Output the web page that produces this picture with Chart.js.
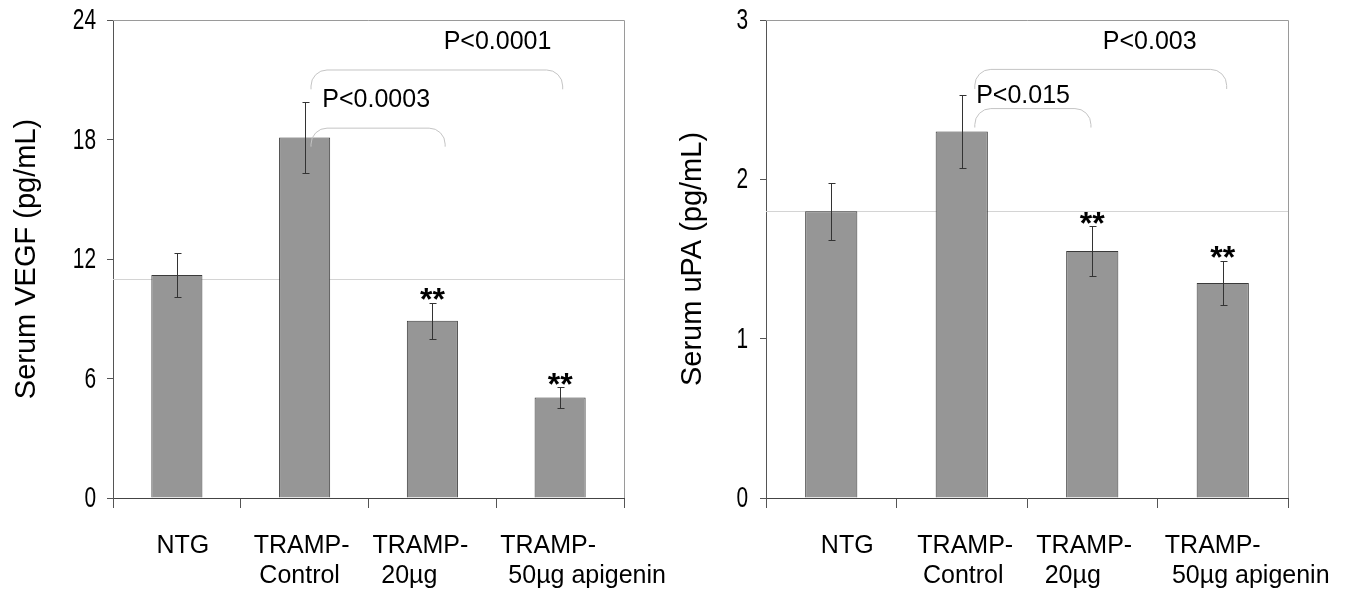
<!DOCTYPE html>
<html><head><meta charset="utf-8">
<script src="https://cdn.jsdelivr.net/npm/chart.js@4/dist/chart.umd.min.js"></script>
<style>
html,body{margin:0;padding:0;background:#fff;}
#wrap{position:relative;width:1347px;height:592px;overflow:hidden;background:#fff;}
#c1{position:absolute;left:0;top:0;}
#c2{position:absolute;left:670px;top:0;}
</style></head><body>
<div id="wrap"><canvas id="c1" width="670" height="592"></canvas><canvas id="c2" width="677" height="592"></canvas></div>
<script>
// ---- data ----
const categories = [['NTG'], ['TRAMP-', 'Control'], ['TRAMP-', '20µg'], ['TRAMP-', '50µg apigenin']];
const vegfValues = [11.2, 18.1, 8.9, 5.05];
const vegfErrors = [1.1, 1.8, 0.9, 0.52];
const vegfTicks = [0, 6, 12, 18, 24];
const vegfReference = 11.0;
const vegfStars = ['', '', '**', '**'];
const vegfPLabels = ['P<0.0003', 'P<0.0001'];
const upaValues = [1.80, 2.30, 1.55, 1.35];
const upaErrors = [0.18, 0.23, 0.155, 0.14];
const upaTicks = [0, 1, 2, 3];
const upaReference = 1.80;
const upaStars = ['', '', '**', '**'];
const upaPLabels = ['P<0.015', 'P<0.003'];

// ---- layout of annotations (index / value space) ----
const vegfBracketLayout = [
  {x1: 1.05, x2: 2.10, top: 18.57, bottom: 17.64, tx: 1.56, ty: 19.99},
  {x1: 1.05, x2: 3.02, top: 21.49, bottom: 20.52, tx: 2.51, ty: 22.88}
];
const upaBracketLayout = [
  {x1: 1.10, x2: 1.99, top: 2.444, bottom: 2.325, tx: 1.47, ty: 2.52},
  {x1: 1.10, x2: 3.03, top: 2.69, bottom: 2.567, tx: 2.44, ty: 2.864}
];
const vegfLabelShift = [[6], [-3, -5], [-12, -23], [-12, 27]];
const upaLabelShift = [[16], [3.5, 1.5], [-8, -19.5], [-10, 28]];

const SANS = "'Liberation Sans', Arial, sans-serif";

function makeChart(canvas, o) {
  const annot = {
    id: 'annot',
    beforeDatasetsDraw(chart) {
      const {ctx, chartArea: a, scales: {y}} = chart;
      ctx.save();
      ctx.strokeStyle = '#d4d4d4';
      ctx.lineWidth = 1;
      const ry = Math.round(y.getPixelForValue(o.reference)) + 0.5;
      ctx.beginPath(); ctx.moveTo(a.left, ry); ctx.lineTo(a.right, ry); ctx.stroke();
      ctx.restore();
    },
    afterDatasetsDraw(chart) {
      const {ctx, chartArea: a, scales: {x, y}} = chart;
      const meta = chart.getDatasetMeta(0);
      ctx.save();
      // frame top/right
      ctx.strokeStyle = '#9a9a9a';
      ctx.lineWidth = 1;
      ctx.beginPath();
      ctx.moveTo(a.left, a.top + 0.5); ctx.lineTo(Math.round(a.right) + 0.5, a.top + 0.5);
      ctx.lineTo(Math.round(a.right) + 0.5, a.bottom);
      ctx.stroke();
      // error bars
      ctx.strokeStyle = '#333';
      o.values.forEach((v, i) => {
        const bx = Math.round(meta.data[i].x) + 0.5;
        const t = Math.round(y.getPixelForValue(v + o.errors[i])) + 0.5;
        const b = Math.round(y.getPixelForValue(v - o.errors[i])) + 0.5;
        ctx.beginPath();
        ctx.moveTo(bx, t); ctx.lineTo(bx, b);
        ctx.moveTo(bx - 3, t); ctx.lineTo(bx + 4, t);
        ctx.moveTo(bx - 3, b); ctx.lineTo(bx + 4, b);
        ctx.stroke();
      });
      // stars
      ctx.fillStyle = '#000';
      ctx.font = 'bold 32px ' + SANS;
      ctx.textAlign = 'center';
      ctx.textBaseline = 'alphabetic';
      o.stars.forEach((s, i) => {
        if (!s) return;
        const t = y.getPixelForValue(o.values[i] + o.errors[i]);
        ctx.fillText(s, meta.data[i].x, t - 11 + 18.6);
      });
      // brackets
      ctx.strokeStyle = '#c4c4c4';
      ctx.lineWidth = 1;
      o.brackets.forEach((br, k) => {
        const x1 = x.getPixelForValue(br.x1), x2 = x.getPixelForValue(br.x2);
        const yt = y.getPixelForValue(br.top), yb = y.getPixelForValue(br.bottom);
        const r = Math.min(16, yb - yt);
        ctx.beginPath();
        ctx.moveTo(x1, yb);
        ctx.arcTo(x1, yt, x1 + r, yt, r);
        ctx.lineTo(x2 - r, yt);
        ctx.arcTo(x2, yt, x2, yb, r);
        ctx.lineTo(x2, yb);
        ctx.stroke();
        ctx.font = '25px ' + SANS;
        ctx.textBaseline = 'middle';
        ctx.fillText(o.pLabels[k], x.getPixelForValue(br.tx), y.getPixelForValue(br.ty));
      });
      ctx.restore();
    },
    afterDraw(chart) {
      const {ctx, chartArea: a, scales: {x, y}} = chart;
      ctx.save();
      ctx.fillStyle = '#000';
      // category labels
      ctx.font = '25px ' + SANS;
      ctx.textAlign = 'center';
      ctx.textBaseline = 'middle';
      o.labels.forEach((lines, i) => {
        const cx = x.getPixelForValue(i);
        lines.forEach((ln, j) => {
          ctx.fillText(ln, cx + o.shift[i][j], 546 + j * 30);
        });
      });
      // condensed value-axis tick labels
      ctx.font = '29px ' + SANS;
      ctx.textAlign = 'right';
      o.ticks.forEach(v => {
        ctx.save();
        ctx.translate(a.left - 6 - o.tickPad, y.getPixelForValue(v) + 1);
        ctx.scale(0.72, 1);
        ctx.fillText(String(v), 0, 0);
        ctx.restore();
      });
      ctx.restore();
    }
  };
  return new Chart(canvas, {
    type: 'bar',
    data: {
      labels: o.labels,
      datasets: [{
        data: o.values,
        backgroundColor: '#969696',
        borderColor: '#3a3a3a',
        borderWidth: 1,
        barPercentage: 0.4,
        categoryPercentage: 1
      }]
    },
    options: {
      responsive: false,
      animation: false,
      devicePixelRatio: 1,
      layout: {padding: {left: 0, right: o.padRight, top: 20, bottom: 0}},
      plugins: {legend: {display: false}, tooltip: {enabled: false}},
      scales: {
        x: {
          type: 'category',
          grid: {offset: true, drawOnChartArea: false, drawTicks: true, tickLength: 10, color: '#555'},
          border: {color: '#444', width: 1},
          ticks: {display: false},
          afterFit: s => { s.height = 94; }
        },
        y: {
          min: 0, max: o.max,
          afterBuildTicks: s => { s.ticks = o.ticks.map(v => ({value: v})); },
          grid: {drawOnChartArea: false, drawTicks: true, tickLength: 6, color: '#555'},
          border: {color: '#555', width: 1},
          ticks: {display: false},
          title: {display: true, text: o.title, color: '#000', font: {family: SANS, size: 29}, padding: {top: o.titlePad, bottom: 0}},
          afterFit: s => { s.width = o.axisWidth; }
        }
      }
    },
    plugins: [annot]
  });
}

makeChart(document.getElementById('c1'), {
  labels: categories, values: vegfValues, errors: vegfErrors, ticks: vegfTicks, max: 24,
  reference: vegfReference, stars: vegfStars, pLabels: vegfPLabels, brackets: vegfBracketLayout,
  shift: vegfLabelShift, title: 'Serum VEGF (pg/mL)', axisWidth: 113, padRight: 46, tickPad: 11, titlePad: 9.6
});
makeChart(document.getElementById('c2'), {
  labels: categories, values: upaValues, errors: upaErrors, ticks: upaTicks, max: 3,
  reference: upaReference, stars: upaStars, pLabels: upaPLabels, brackets: upaBracketLayout,
  shift: upaLabelShift, title: 'Serum uPA (pg/mL)', axisWidth: 96, padRight: 59, tickPad: 12, titlePad: 5.6
});
</script>
</body></html>
